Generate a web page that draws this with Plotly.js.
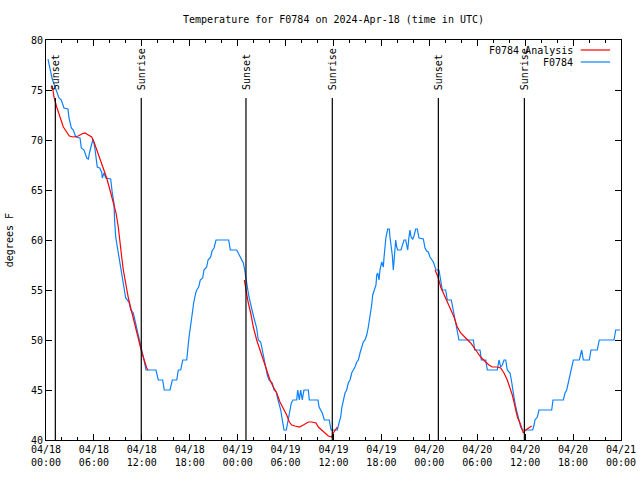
<!DOCTYPE html>
<html>
<head>
<meta charset="utf-8">
<script src="https://cdn.plot.ly/plotly-3.0.1.min.js"></script>
<style>html,body{margin:0;padding:0;background:#fff;}#chart{width:640px;height:480px;}</style>
</head>
<body>
<div id="chart"></div>
<script>
// Hours since 2024-04-18 00:00 UTC
const obsHours = [0.25,0.75,1.13,1.63,1.92,2.25,2.75,2.88,3.17,3.42,3.72,4.26,4.42,4.76,5.10,5.30,5.47,5.72,5.89,6.10,6.30,6.42,6.72,6.97,7.05,7.26,7.48,8.10,8.30,8.51,8.60,8.73,8.93,9.14,9.35,9.55,9.77,9.98,10.39,10.61,10.93,11.23,11.56,11.86,11.98,12.27,12.52,13.77,14.06,14.61,14.81,15.53,15.82,16.37,16.57,16.87,17.12,17.62,17.74,17.91,18.12,18.28,18.49,18.75,18.87,19.12,19.32,19.62,19.78,20.12,20.29,20.62,20.79,21.04,21.29,22.88,23.08,23.88,24.08,24.29,24.51,24.71,24.88,25.04,25.21,25.42,25.63,25.80,26.01,26.21,26.38,26.58,26.88,27.09,27.30,27.51,27.71,27.92,28.34,28.55,28.84,28.96,29.18,29.39,29.59,29.80,30.09,30.30,30.52,30.72,30.93,31.39,31.52,31.72,31.89,32.09,32.30,32.85,32.97,34.06,34.19,34.40,34.60,34.85,35.47,35.69,36.48,36.69,36.90,37.03,37.23,37.44,37.65,37.85,38.07,38.28,38.48,38.69,38.91,39.11,39.32,39.53,39.73,39.94,40.16,40.36,40.57,40.78,40.91,41.11,41.32,41.41,41.54,41.70,41.82,42.04,42.24,42.32,42.45,42.57,42.79,42.99,43.07,43.20,43.36,43.49,43.61,43.79,43.91,44.04,44.45,44.67,44.83,45.04,45.17,45.29,45.45,45.58,45.71,45.92,46.08,46.29,46.49,46.71,47.25,47.46,47.67,47.87,48.08,48.30,48.50,48.71,48.84,49.21,49.42,49.62,50.05,50.25,50.75,51.00,51.21,51.43,51.71,53.51,53.68,54.35,54.51,55.06,55.26,56.51,56.72,56.94,57.14,57.35,57.56,57.76,58.10,58.27,58.44,58.60,58.82,59.02,59.23,59.44,59.64,60.94,61.11,61.23,61.52,61.73,63.32,63.49,64.78,64.99,65.20,65.40,65.61,65.83,66.03,66.78,66.95,67.08,67.28,68.03,68.24,69.03,69.28,71.12,71.34,71.88];
const obsTemps = [78.1,76.2,75.3,74.2,74,73.2,73.1,72.2,71.2,71,70.3,70.2,69.2,69,68.2,68.1,68.8,69.8,70.1,69.3,68.3,67.3,67.2,66.8,66.2,66.7,66.2,66.1,64.7,63.7,61.8,60.3,59.3,58.3,57.3,56.3,55.3,54.2,53.8,53,52.7,51.7,50.7,49.7,49,48,47,47,46,46,45,45,46,46,47,47,48,48,49.3,50.3,51.5,52.5,53.7,54.7,55,55.3,56,56.2,57,57.3,58,58.3,58.9,59.2,60,60,59,59,58.7,58.3,58,57.7,57,56,55.3,54.3,53.7,53,52.3,51.7,51.2,50,49.8,49,48,47,46.5,46,45.7,45,44.8,44.3,43.7,43,42,41,41,42,43,43.7,44,44,45,44,45,44,45,45,44,44,43.3,43,42.7,42,42,41,41,41.7,42.3,43.2,43.8,44.7,45,45.7,46,46.7,47,47.3,47.8,48,48.7,49.3,49.8,50,50.5,51.3,52.3,53.5,54.5,55,55.5,56.5,56.7,56,57,57.8,57.3,58.2,59.3,60.3,61.1,61.1,60.3,59.5,58.5,57,58.7,60,59.3,59,59,59.7,60,60,59.3,59,60.3,61,60.3,60.1,60.4,61.1,61.1,60.2,60.1,59.2,58.9,58.8,58.3,58,57.8,57.3,57,57,56,55,55,54,54,53,52,51.3,50,50,49,49,48,48,47,47,48,47.3,47.5,48,48,47,46.7,46,45.3,44.3,43.3,42.7,42,41.3,41,41,41.5,42,42.3,43,43,44,44,44.7,45,45.7,46.7,47.3,48,48,48.7,49,48,48,49,49,50,50,51,51];

// Analysis series (null separates the three evening-to-morning segments)
const anaHours = [0.79,1.00,1.34,1.75,2.17,2.59,2.92,3.42,4.04,4.47,4.88,5.30,5.72,6.01,6.35,6.76,7.18,7.60,8.01,8.43,8.77,9.05,9.27,9.48,9.68,9.89,10.11,10.31,10.52,10.73,10.93,11.14,11.36,11.56,11.77,11.98,12.18,12.40,12.61,12.81,
  null,
  24.83,25.04,25.33,25.63,25.96,26.38,26.80,27.21,27.64,28.05,28.46,28.89,29.30,29.71,30.14,30.47,30.77,31.18,31.72,32.22,32.85,33.27,33.81,34.10,34.52,34.94,35.35,35.78,35.98,36.31,36.48,
  null,
  48.71,49.09,49.42,49.84,50.25,50.68,51.09,51.50,51.93,52.55,53.18,53.81,54.43,55.06,55.47,55.89,56.51,56.94,57.35,57.76,58.10,58.39,58.60,58.82,59.02,59.35,59.64,59.77,60.07,60.48,60.81];
const anaTemps = [75.4,74.3,73.3,72.2,71.3,70.8,70.4,70.3,70.4,70.6,70.7,70.5,70.3,69.8,69,68.2,67.2,66.2,65,63.8,62.7,61.3,60,58.3,57,56,55,54.2,53.5,52.8,52.2,51.5,50.8,50,49.3,48.8,48.3,47.7,47.2,47,
  null,
  56,55,53.7,52.7,51.3,50,49,48,46.8,46,45.3,44.7,43.8,43.2,42.5,41.8,41.5,41.4,41.3,41.5,41.8,41.8,41.7,41.3,41,40.7,40.4,40.3,40.7,41.1,41.3,
  null,
  57,56.3,55.3,54.5,53.8,53,52.3,51.3,50.7,50.2,49.7,49,48.3,47.8,47.5,47.3,47.3,47.2,46.7,46,45.3,44.5,43.8,43,42.3,41.7,41,40.7,41,41.2,41.4];

const eventHours = [1.17, 11.93, 25.04, 35.85, 49.13, 59.90];
const eventLabels = ["Sunset", "Sunrise", "Sunset", "Sunrise", "Sunset", "Sunrise"];

const tickHours = [0,6,12,18,24,30,36,42,48,54,60,66,72];
const tickLabels = ["04/18<br>00:00","04/18<br>06:00","04/18<br>12:00","04/18<br>18:00",
  "04/19<br>00:00","04/19<br>06:00","04/19<br>12:00","04/19<br>18:00",
  "04/20<br>00:00","04/20<br>06:00","04/20<br>12:00","04/20<br>18:00","04/21<br>00:00"];

const seriesNames = ["F0784 Analysis", "F0784"];
const seriesColors = ["#ff0000", "#0a80ff"];

const FONT = "DejaVu Sans Mono";

const traces = [
  {x: obsHours, y: obsTemps, type: "scatter", mode: "lines", name: seriesNames[1],
   line: {color: seriesColors[1], width: 1.2}, showlegend: false},
  {x: anaHours, y: anaTemps, type: "scatter", mode: "lines", name: seriesNames[0],
   line: {color: seriesColors[0], width: 1.2}, connectgaps: false, showlegend: false}
];

const shapes = eventHours.map(h => ({type: "line", xref: "x", yref: "y",
  x0: h, x1: h, y0: 40, y1: 74.2, line: {color: "#000", width: 1.2}}));

const annotations = eventHours.map((h, i) => ({xref: "x", yref: "y", x: h, y: 74.8,
  text: eventLabels[i], textangle: -90, showarrow: false, xanchor: "center", yanchor: "bottom",
  font: {family: FONT, size: 10, color: "#000"}}));

// legend (text followed by line sample, like the original)
const legY = [0.975, 0.945];
seriesNames.forEach((n, i) => {
  annotations.push({xref: "paper", yref: "paper", x: 0.9205, y: legY[i], text: n, showarrow: false,
    xanchor: "right", yanchor: "middle", font: {family: FONT, size: 10, color: "#000"}});
  shapes.push({type: "line", xref: "paper", yref: "paper", x0: 0.930, x1: 0.981, y0: legY[i], y1: legY[i],
    line: {color: seriesColors[i], width: 1.2}});
});

annotations.push({xref: "paper", yref: "paper", x: -0.064, y: 0.5, text: "degrees F", textangle: -90,
  showarrow: false, xanchor: "center", yanchor: "middle", font: {family: FONT, size: 10, color: "#000"}});

const layout = {
  width: 640, height: 480,
  margin: {l: 46, r: 19, t: 40, b: 40, pad: 0},
  paper_bgcolor: "#fff", plot_bgcolor: "#fff",
  font: {family: FONT, size: 10, color: "#000"},
  title: {text: "Temperature for F0784 on 2024-Apr-18 (time in UTC)", x: 0.5, xref: "paper",
    y: 1 - 19/480, yref: "container", yanchor: "middle", font: {family: FONT, size: 10, color: "#000"}},
  xaxis: {range: [0, 72], tickmode: "array", tickvals: tickHours, ticktext: tickLabels,
    ticks: "inside", ticklen: 6, tickcolor: "#000", tickwidth: 1, showline: true, linecolor: "#000", linewidth: 1,
    mirror: "allticks", showgrid: false, zeroline: false, fixedrange: true,
    minor: {dtick: 2, tick0: 0, ticks: "inside", ticklen: 3, tickcolor: "#000", showgrid: false},
    tickfont: {family: FONT, size: 10, color: "#000"}},
  yaxis: {range: [40, 80], tickmode: "linear", tick0: 40, dtick: 5,
    ticks: "inside", ticklen: 6, tickcolor: "#000", tickwidth: 1, showline: true, linecolor: "#000", linewidth: 1,
    mirror: "allticks", showgrid: false, zeroline: false, fixedrange: true,
    tickfont: {family: FONT, size: 10, color: "#000"}},
  shapes: shapes,
  annotations: annotations,
  showlegend: false
};

Plotly.newPlot("chart", traces, layout, {staticPlot: true, displayModeBar: false});
</script>
</body>
</html>
